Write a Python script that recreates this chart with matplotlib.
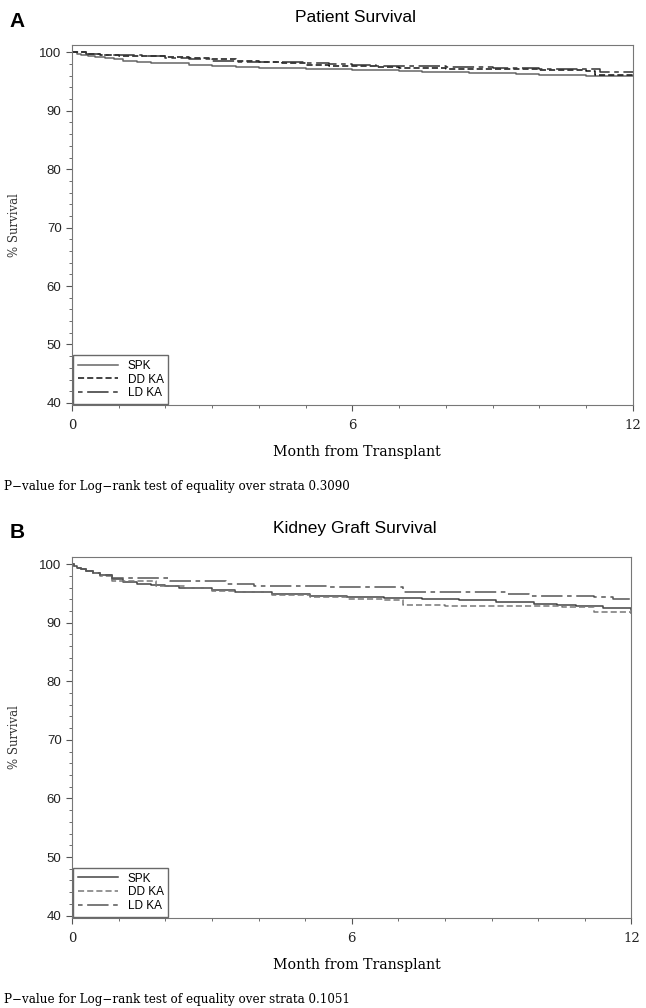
import numpy as np
import matplotlib
matplotlib.use("Agg")
import matplotlib.pyplot as plt
from matplotlib.ticker import MultipleLocator

# Panel A - patient survival (month, % surviving)
a_spk_t = [0, 0.1, 0.2, 0.35, 0.5, 0.7, 0.9, 1.1, 1.4, 1.7, 2, 2.5, 3, 3.5, 4, 4.5, 5, 5.5, 6, 6.5, 7, 7.5, 8, 8.5, 9, 9.5, 10, 10.5, 11, 11.5, 12]
a_spk_s = [100, 99.8, 99.6, 99.4, 99.2, 99.0, 98.8, 98.6, 98.4, 98.2, 98.1, 97.9, 97.7, 97.55, 97.4, 97.3, 97.2, 97.1, 97.0, 96.9, 96.8, 96.7, 96.6, 96.5, 96.4, 96.3, 96.2, 96.1, 96.0, 95.95, 95.9]
a_dd_t = [0, 0.3, 0.6, 1, 1.5, 2, 2.5, 3, 3.5, 4, 4.5, 5, 5.5, 6, 6.5, 7, 7.5, 8, 9, 10, 10.5, 11, 11.2, 11.6, 12]
a_dd_s = [100, 99.8, 99.6, 99.4, 99.3, 99.2, 99.0, 98.8, 98.5, 98.3, 98.1, 97.9, 97.75, 97.6, 97.5, 97.4, 97.3, 97.2, 97.1, 97.0, 96.9, 96.8, 96.1, 96.05, 96.0]
a_ld_t = [0, 0.3, 0.6, 1, 1.5, 2, 2.5, 3, 3.5, 4, 5, 5.5, 6, 6.5, 7, 8, 9, 10, 11, 11.3, 12]
a_ld_s = [100, 99.8, 99.6, 99.5, 99.3, 99.0, 98.8, 98.6, 98.4, 98.3, 98.2, 98.0, 97.8, 97.7, 97.6, 97.5, 97.3, 97.2, 97.1, 96.6, 96.7]

# Panel B - kidney graft survival
b_spk_t = [0, 0.05, 0.1, 0.2, 0.3, 0.45, 0.6, 0.85, 1.1, 1.4, 1.7, 2.0, 2.3, 2.6, 3.0, 3.5, 4.3, 5.1, 5.9, 6.7, 7.5, 8.3, 9.1, 9.9, 10.4, 10.8, 11.4, 12]
b_spk_s = [100, 99.7, 99.4, 99.1, 98.8, 98.5, 98.1, 97.5, 97.0, 96.6, 96.4, 96.2, 96.0, 95.9, 95.6, 95.2, 94.9, 94.6, 94.4, 94.2, 94.0, 93.8, 93.5, 93.2, 93.0, 92.8, 92.5, 92.2]
b_dd_t = [0, 0.05, 0.1, 0.2, 0.3, 0.45, 0.6, 0.85, 1.4, 1.8, 2.4, 3.0, 3.5, 4.3, 5.1, 5.9, 6.7, 7.1, 8.0, 9.1, 10.5, 11.2, 12]
b_dd_s = [100, 99.7, 99.4, 99.1, 98.8, 98.5, 98.0, 97.2, 97.1, 96.3, 95.9, 95.5, 95.2, 94.8, 94.4, 94.1, 93.8, 93.0, 92.9, 92.8, 92.7, 91.9, 91.5]
b_ld_t = [0, 0.05, 0.1, 0.2, 0.3, 0.45, 0.6, 0.85, 2.1, 3.3, 3.9, 5.5, 7.1, 7.9, 9.3, 9.8, 11.2, 11.6, 12]
b_ld_s = [100, 99.7, 99.4, 99.1, 98.8, 98.5, 98.2, 97.7, 97.2, 96.6, 96.2, 96.1, 95.3, 95.2, 94.9, 94.5, 94.4, 94.1, 93.8]

groups = ["SPK", "DD KA", "LD KA"]
pvals = ["0.3090", "0.1051"]
titles = ["Patient Survival", "Kidney Graft Survival"]
letters = ["A", "B"]

fig = plt.figure(figsize=(6.46, 10.08), dpi=100)

panels = [
    ([a_spk_t, a_dd_t, a_ld_t], [a_spk_s, a_dd_s, a_ld_s], ["#666666", "#111111", "#333333"]),
    ([b_spk_t, b_dd_t, b_ld_t], [b_spk_s, b_dd_s, b_ld_s], ["#444444", "#777777", "#555555"]),
]
styles = ["-", (0, (4, 2)), (0, (3, 3, 14, 3))]
boxes = [[0.1115, 0.598, 0.868, 0.357], [0.1115, 0.0893, 0.866, 0.358]]
ytop = [1 - 17 / 1008, 1 - 528 / 1008]
xlab_y = [1 - 452 / 1008, 1 - 965 / 1008]
p_y = [1 - 486 / 1008, 1 - 999 / 1008]

for i in range(2):
    ax = fig.add_axes(boxes[i])
    ts, ss, cols = panels[i]
    for t, s, c, ls, g in zip(ts, ss, cols, styles, groups):
        ax.plot(t, s, drawstyle="steps-post", color=c, ls=ls, lw=1.1, label=g)
    ax.set_xlim(0, 12)
    ax.set_ylim(39.6, 101.2)
    ax.set_xticks([0, 6, 12])
    ax.set_yticks([40, 50, 60, 70, 80, 90, 100])
    ax.xaxis.set_minor_locator(MultipleLocator(1))
    ax.yaxis.set_minor_locator(MultipleLocator(2))
    ax.tick_params(which="both", direction="out", colors="#555555")
    ax.tick_params(which="major", length=4)
    ax.tick_params(which="minor", length=2)
    ax.tick_params(axis="x", pad=6)
    for lb in ax.get_xticklabels():
        lb.set_family("DejaVu Serif")
        lb.set_fontsize(9.5)
        lb.set_color("#222222")
    for lb in ax.get_yticklabels():
        lb.set_family("Liberation Sans")
        lb.set_fontsize(9.5)
        lb.set_color("#222222")
    for sp in ax.spines.values():
        sp.set_color("#777777")
    ax.set_ylabel("% Survival", family="DejaVu Serif", fontsize=8.5, color="#333333", labelpad=13)
    leg = ax.legend(loc="lower left", frameon=True, fancybox=False, handlelength=3.4,
                    prop={"family": "Liberation Sans", "size": 8.5}, borderpad=0.4,
                    labelspacing=0.15, borderaxespad=0.1, edgecolor="#444444")
    leg.get_frame().set_linewidth(1.0)

    fig.text(0.55, ytop[i], titles[i], ha="center", va="center",
             family="Liberation Sans", fontsize=12.5)
    fig.text(0.015, ytop[i] - 0.004, letters[i], ha="left", va="center",
             family="Liberation Sans", fontweight="bold", fontsize=15)
    fig.text(0.552, xlab_y[i], "Month from Transplant", ha="center", va="center",
             family="DejaVu Serif", fontsize=10.2)
    fig.text(0.006, p_y[i], "P\u2212value for Log\u2212rank test of equality over strata " + pvals[i],
             ha="left", va="center", family="DejaVu Serif", fontsize=8.6)

fig.savefig("out.png", dpi=100)
